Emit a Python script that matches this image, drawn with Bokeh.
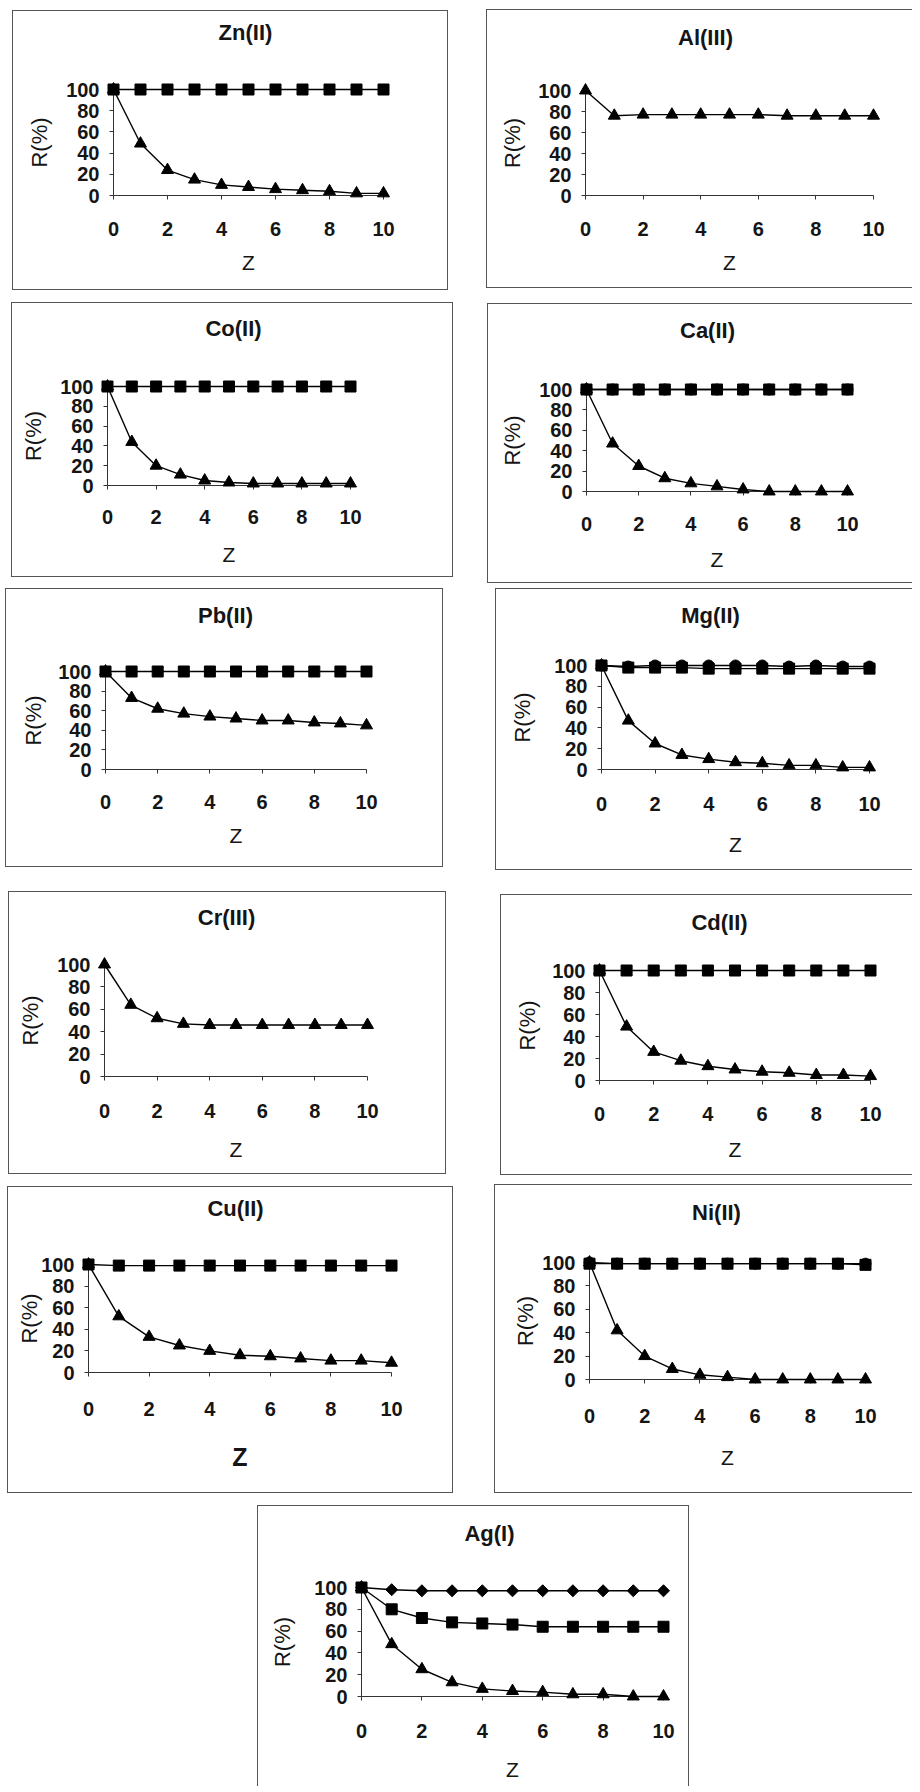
import numpy as np
from bokeh.plotting import figure
from bokeh.models import Range1d, FixedTicker, Spacer
from bokeh.core.properties import value
from bokeh.layouts import row, column
from bokeh.embed import file_html
from bokeh.resources import INLINE

# ---------------- data ----------------
z = [0, 1, 2, 3, 4, 5, 6, 7, 8, 9, 10]
x_ticks = [0, 2, 4, 6, 8, 10]
y_ticks = [0, 20, 40, 60, 80, 100]

zn_sq = [100, 100, 100, 100, 100, 100, 100, 100, 100, 100, 100]
zn_tri = [100, 49, 24, 15, 10, 8, 6, 5, 4, 2, 2]

al_tri = [100, 76, 77, 77, 77, 77, 77, 76, 76, 76, 76]

co_sq = [100, 100, 100, 100, 100, 100, 100, 100, 100, 100, 100]
co_tri = [100, 44, 20, 11, 5, 3, 2, 2, 2, 2, 2]

ca_ci = [100, 100, 100, 100, 100, 100, 100, 100, 100, 100, 100]
ca_sq = [100, 100, 100, 100, 100, 100, 100, 100, 100, 100, 100]
ca_tri = [100, 47, 25, 13, 8, 5, 2, 0, 0, 0, 0]

pb_sq = [100, 100, 100, 100, 100, 100, 100, 100, 100, 100, 100]
pb_tri = [100, 73, 62, 57, 54, 52, 50, 50, 48, 47, 45]

mg_ci = [100, 99, 100, 100, 100, 100, 100, 99, 100, 99, 99]
mg_sq = [100, 98, 98, 98, 97, 97, 97, 97, 97, 97, 97]
mg_tri = [100, 47, 25, 14, 10, 7, 6, 4, 4, 2, 2]

cr_tri = [100, 64, 52, 47, 46, 46, 46, 46, 46, 46, 46]

cd_sq = [100, 100, 100, 100, 100, 100, 100, 100, 100, 100, 100]
cd_tri = [100, 49, 26, 18, 13, 10, 8, 7, 5, 5, 4]

cu_sq = [100, 99, 99, 99, 99, 99, 99, 99, 99, 99, 99]
cu_tri = [100, 52, 33, 25, 20, 16, 15, 13, 11, 11, 9]

ni_ci = [100, 99, 99, 99, 99, 99, 99, 99, 99, 99, 99]
ni_sq = [99, 99, 99, 99, 99, 99, 99, 99, 99, 99, 98]
ni_tri = [100, 42, 20, 9, 4, 2, 0, 0, 0, 0, 0]

ag_di = [100, 98, 97, 97, 97, 97, 97, 97, 97, 97, 97]
ag_sq = [100, 80, 72, 68, 67, 66, 64, 64, 64, 64, 64]
ag_tri = [100, 48, 25, 13, 7, 5, 4, 2, 2, 0, 0]

# ---------------- styling / layout ----------------
FONT = "Liberation Sans"
TITLE_SIZE = 22

# box (x0,y0,x1,y1), frame (l,t,r,b), title centre x, gaps, sides of border
panels = [
    dict(title="Zn(II)", box=(12, 10, 448, 290), frame=(113, 89, 383, 195), tc=245,
         series=[("square", zn_sq), ("triangle", zn_tri)], tg=57, zg=60, rg=74, xg=25, sides="ltrb"),
    dict(title="Al(III)", box=(486, 9, 912, 288), frame=(585, 90, 873, 195), tc=705,
         series=[("triangle", al_tri)], tg=53, zg=60, rg=73, xg=25, sides="ltb"),
    dict(title="Co(II)", box=(11, 302, 453, 577), frame=(107, 386, 350, 485), tc=233,
         series=[("square", co_sq), ("triangle", co_tri)], tg=58, zg=62, rg=74, xg=23, sides="ltrb"),
    dict(title="Ca(II)", box=(487, 303, 912, 583), frame=(586, 389, 847, 491), tc=707,
         series=[("square", ca_sq), ("circle", ca_ci), ("triangle", ca_tri)], tg=59, zg=61, rg=74, xg=24, sides="ltb"),
    dict(title="Pb(II)", box=(5, 588, 443, 867), frame=(105, 671, 366, 769), tc=225,
         series=[("square", pb_sq), ("triangle", pb_tri)], tg=56, zg=59, rg=72, xg=24, sides="ltrb"),
    dict(title="Mg(II)", box=(495, 588, 912, 870), frame=(601, 665, 869, 769), tc=710,
         series=[("square", mg_sq), ("circle", mg_ci), ("triangle", mg_tri)], tg=50, zg=68, rg=79, xg=26, sides="ltb"),
    dict(title="Cr(III)", box=(8, 891, 446, 1174), frame=(104, 964, 367, 1076), tc=226,
         series=[("triangle", cr_tri)], tg=47, zg=66, rg=74, xg=26, sides="ltrb"),
    dict(title="Cd(II)", box=(500, 894, 912, 1175), frame=(599, 970, 870, 1080), tc=719,
         series=[("square", cd_sq), ("triangle", cd_tri)], tg=48, zg=62, rg=72, xg=25, sides="ltb"),
    dict(title="Cu(II)", box=(7, 1186, 453, 1493), frame=(88, 1264, 391, 1372), tc=235,
         series=[("square", cu_sq), ("triangle", cu_tri)], tg=56, zg=75, rg=59, xg=28, sides="ltrb",
         zsize=25, zbold=True),
    dict(title="Ni(II)", box=(494, 1184, 912, 1493), frame=(589, 1262, 865, 1379), tc=716,
         series=[("square", ni_sq), ("circle", ni_ci), ("triangle", ni_tri)], tg=50, zg=71, rg=64, xg=28, sides="ltb"),
    dict(title="Ag(I)", box=(257, 1505, 689, 1786), frame=(361, 1587, 663, 1696), tc=489,
         series=[("diamond", ag_di), ("square", ag_sq), ("triangle", ag_tri)], tg=54, zg=66, rg=79, xg=26, sides="ltr"),
]

SHADOW = {"l": "inset 1px 0 0 #555", "t": "inset 0 1px 0 #555",
          "r": "inset -1px 0 0 #555", "b": "inset 0 -1px 0 #555"}


def make_panel(spec):
    x0, y0, x1, y1 = spec["box"]
    fl, ft, fr, fb = spec["frame"]
    p = figure(width=x1 - x0, height=y1 - y0, output_backend="svg", toolbar_location=None,
               x_range=Range1d(0, 10), y_range=Range1d(0, 100), title=None,
               min_border_left=fl - x0, min_border_right=x1 - fr,
               min_border_top=ft - y0, min_border_bottom=y1 - fb,
               background_fill_color=None, border_fill_color=None)
    p.styles = {"background-color": "white",
                "box-shadow": ", ".join(SHADOW[s] for s in spec["sides"])}
    p.outline_line_color = None
    p.xgrid.visible = False
    p.ygrid.visible = False

    # panel title: anchored at the frame's top-left corner, shifted in pixels
    p.text(x=[0], y=[100], text=[spec["title"]],
           x_offset=spec["tc"] - fl, y_offset=-spec["tg"],
           text_align="center", text_baseline="middle",
           text_font=value(FONT), text_font_size=f"{TITLE_SIZE}px",
           text_font_style="bold", text_color="#151515", level="overlay")

    for ax in (p.xaxis[0], p.yaxis[0]):
        ax.axis_line_color = "#333333"
        ax.axis_line_width = 1
        ax.major_tick_line_color = "#333333"
        ax.major_tick_in = 0
        ax.major_tick_out = 4
        ax.minor_tick_line_color = None
        ax.major_label_text_font = FONT
        ax.major_label_text_font_size = "20px"
        ax.major_label_text_font_style = "bold"
        ax.major_label_text_color = "#151515"
        ax.axis_label_text_font = FONT
        ax.axis_label_text_color = "#151515"

    xa = p.xaxis[0]
    xa.ticker = FixedTicker(ticks=x_ticks)
    xa.major_label_standoff = spec["xg"] - 3
    xa.axis_label = "Z"
    xa.axis_label_text_font_size = f"{spec.get('zsize', 21)}px"
    xa.axis_label_text_font_style = "bold" if spec.get("zbold") else "normal"
    xa.axis_label_standoff = 12 + (spec["zg"] - 60) - (spec["xg"] - 25)

    ya = p.yaxis[0]
    ya.ticker = FixedTicker(ticks=y_ticks)
    ya.major_label_standoff = 10
    ya.axis_label = "R(%)"
    ya.axis_label_text_font_size = "22px"
    ya.axis_label_text_font_style = "normal"
    ya.axis_label_standoff = 11 + (spec["rg"] - 74)

    for kind, vals in spec["series"]:
        p.line(z, vals, line_color="black", line_width=1.4, level="overlay")
        if kind == "square":
            p.scatter(z, vals, marker="square", size=11, fill_color="black",
                      line_color="black", level="overlay")
        elif kind == "circle":
            p.scatter(z, vals, marker="circle", size=11, fill_color="black",
                      line_color="black", level="overlay")
        elif kind == "diamond":
            p.scatter(z, vals, marker="square", angle=np.pi / 4, size=8.5,
                      fill_color="black", line_color="black", level="overlay")
        else:
            p.scatter(z, vals, marker="triangle", size=12, fill_color="black",
                      line_color="black", level="overlay")
    return p


figs = [(make_panel(s), s["box"][0], s["box"][1]) for s in panels]

rows_idx = [[0, 1], [2, 3], [4, 5], [6, 7], [8, 9], [10]]

ORIGIN = 0
col_children = []
cur_y = ORIGIN
for ids in rows_idx:
    items = [figs[i] for i in ids]
    top = min(y for f, x, y in items)
    bottom = max(y + f.height for f, x, y in items)
    if top > cur_y:
        col_children.append(Spacer(width=10, height=top - cur_y))
    children = []
    cur_x = ORIGIN
    for f, x, y in sorted(items, key=lambda t: t[1]):
        if x > cur_x:
            children.append(Spacer(width=x - cur_x, height=bottom - top))
        parts = []
        if y > top:
            parts.append(Spacer(width=f.width, height=y - top))
        parts.append(f)
        if bottom > y + f.height:
            parts.append(Spacer(width=f.width, height=bottom - y - f.height))
        children.append(column(parts) if len(parts) > 1 else f)
        cur_x = x + f.width
    col_children.append(row(children))
    cur_y = bottom

layout = column(col_children)

open("out.html", "w").write(file_html(layout, INLINE))
